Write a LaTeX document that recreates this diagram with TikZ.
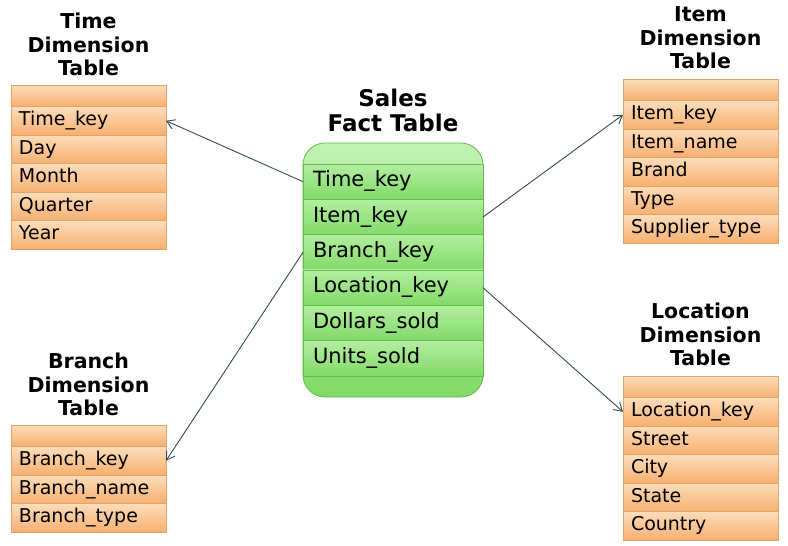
\documentclass[tikz,border=0pt]{standalone}
\usepackage{fontspec}
\setmainfont{DejaVu Sans}
\usetikzlibrary{positioning,arrows.meta}
\definecolor{dimtop}{HTML}{FCDDBA}
\definecolor{dimbot}{HTML}{F6B070}
\definecolor{dimline}{HTML}{E2A466}
\definecolor{facttop}{HTML}{B2EEA0}
\definecolor{factbot}{HTML}{82DA68}
\definecolor{factline}{HTML}{5EC04A}
\definecolor{linkcol}{HTML}{34495A}
\tikzset{
	>={Straight Barb[length=8pt,width=10pt]},
	dimrow/.style={
		rectangle,
		draw=dimline, thick,
		top color=dimtop,
		bottom color=dimbot,
		minimum width=155pt,
		text width=139pt,
		text height=14pt, text depth=4.5pt,
		inner xsep=8pt, inner ysep=0pt,
		minimum height=28.5pt,
		outer sep=0pt,
		font=\fontsize{19}{22}\selectfont},
	dimhead/.style={dimrow, minimum height=21.5pt, anchor=north west},
	factrow/.style={
		rectangle,
		draw=factline, thick,
		top color=facttop,
		bottom color=factbot,
		minimum width=180pt,
		text width=160pt,
		text height=15.5pt, text depth=5pt,
		inner xsep=10pt, inner ysep=0pt,
		minimum height=35.33pt,
		outer sep=0pt,
		font=\fontsize{21}{24}\selectfont},
	factbox/.style={
		rectangle, rounded corners=22pt,
		draw=factline, thick,
		top color=facttop!80!white,
		bottom color=factbot,
		minimum width=180pt,
		minimum height=254pt},
	dimtitle/.style={align=center, inner sep=0pt,
		font=\bfseries\fontsize{20.5}{23.5}\selectfont},
	facttitle/.style={align=center, inner sep=0pt,
		font=\bfseries\fontsize{23}{25}\selectfont},
	link/.style={draw=linkcol, line width=0.9pt, ->},
}
\begin{document}
\begin{tikzpicture}[x=1pt,y=-1pt,node distance=0pt]
	\useasboundingbox[fill=white] (0,0) rectangle (788,546);
	
	% fact table
	\node[factbox] (sales-box) at (393,270) {};
	\node[factrow, anchor=north] (sales-1) at (393,164) {Time\_key};
	\foreach \txt [count=\i from 2, remember=\i as \j (initially 1)] in {Item\_key,Branch\_key,Location\_key,Dollars\_sold,Units\_sold}
		\node[factrow, below=of sales-\j] (sales-\i) {\txt};
	\node[facttitle, above=11pt of sales-box] (sales-title) {Sales\\Fact Table};
	
	% time dimension
	\node[dimhead] (time-0) at (11,85) {};
	\foreach \txt [count=\i, remember=\i as \j (initially 0)] in {Time\_key,Day,Month,Quarter,Year}
		\node[dimrow, below=of time-\j] (time-\i) {\txt};
	\node[dimtitle, above=9pt of time-0] (time-title) {Time\\Dimension\\Table};
	
	% item dimension
	\node[dimhead] (item-0) at (623,79) {};
	\foreach \txt [count=\i, remember=\i as \j (initially 0)] in {Item\_key,Item\_name,Brand,Type,Supplier\_type}
		\node[dimrow, below=of item-\j] (item-\i) {\txt};
	\node[dimtitle, above=10pt of item-0] (item-title) {Item\\Dimension\\Table};
	
	% branch dimension
	\node[dimhead] (branch-0) at (11,425) {};
	\foreach \txt [count=\i, remember=\i as \j (initially 0)] in {Branch\_key,Branch\_name,Branch\_type}
		\node[dimrow, below=of branch-\j] (branch-\i) {\txt};
	\node[dimtitle, above=9pt of branch-0] (branch-title) {Branch\\Dimension\\Table};
	
	% location dimension
	\node[dimhead] (loc-0) at (623,376) {};
	\foreach \txt [count=\i, remember=\i as \j (initially 0)] in {Location\_key,Street,City,State,Country}
		\node[dimrow, below=of loc-\j] (loc-\i) {\txt};
	\node[dimtitle, above=10pt of loc-0] (loc-title) {Location\\Dimension\\Table};
	
	% keys
	\draw[link] (sales-1.west) -- (time-1.east);
	\draw[link] (sales-2.east) -- (item-1.west);
	\draw[link] (sales-3.west) -- (branch-1.east);
	\draw[link] (sales-4.east) -- (loc-1.west);
\end{tikzpicture}
\end{document}
